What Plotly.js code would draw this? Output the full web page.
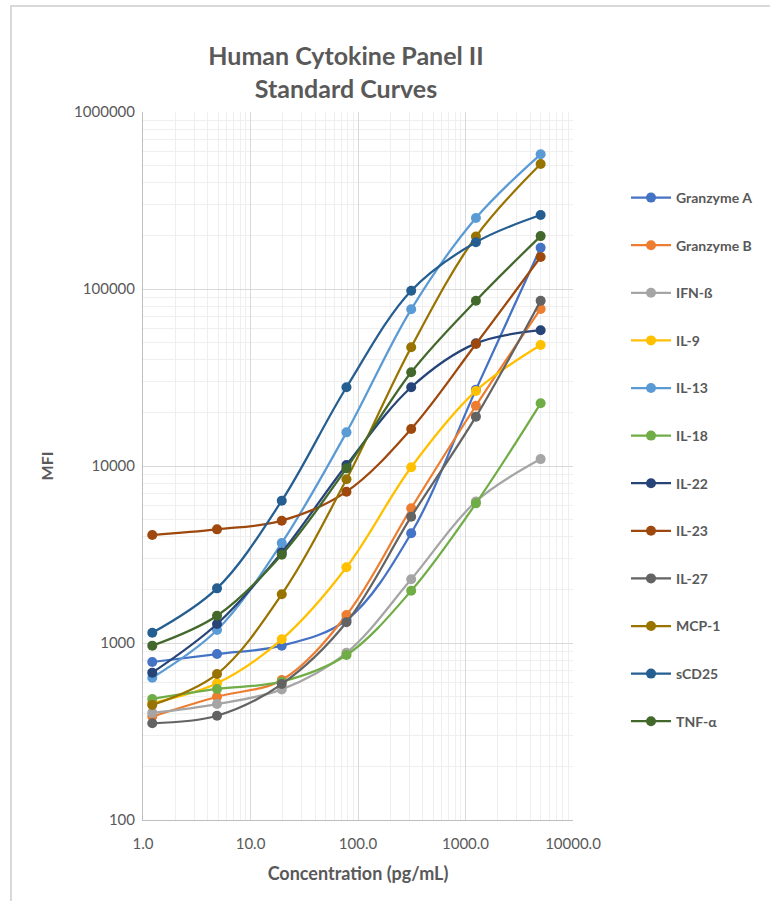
<!DOCTYPE html>
<html>
<head>
<meta charset="utf-8">
<script src="https://cdn.plot.ly/plotly-3.0.1.min.js"></script>
<style>
html,body{margin:0;padding:0;background:#fff;}
#chart{width:770px;height:901px;}
</style>
</head>
<body>
<div id="chart"></div>
<script>
// Concentrations (pg/mL), 4-fold dilution series
const concentration = [1.22, 4.88, 19.53, 78.13, 312.5, 1250, 5000];

const seriesNames = ["Granzyme A","Granzyme B","IFN-ß","IL-9","IL-13","IL-18","IL-22","IL-23","IL-27","MCP-1","sCD25","TNF-α"];

const granzymeA = [781, 866, 966, 1349, 4170, 27000, 171000];
const granzymeB = [384, 497, 618, 1439, 5770, 21900, 77100];
const ifnB      = [403, 452, 547, 880, 2292, 6300, 10940];
const il9       = [458, 592, 1049, 2680, 9840, 26550, 48300];
const il13      = [637, 1184, 3673, 15490, 76800, 251900, 576800];
const il18      = [483, 550, 605, 855, 1973, 6150, 22600];
const il22      = [680, 1280, 3250, 10140, 27850, 49300, 58500];
const il23      = [4075, 4385, 4910, 7160, 16200, 48900, 151700];
const il27      = [352, 388, 586, 1309, 5170, 19000, 85900];
const mcp1      = [447, 668, 1884, 8410, 46900, 197800, 508000];
const scd25     = [1143, 2036, 6368, 27850, 97800, 183800, 261800];
const tnfA      = [966, 1426, 3155, 9700, 33850, 85900, 199000];

const seriesValues = [granzymeA, granzymeB, ifnB, il9, il13, il18, il22, il23, il27, mcp1, scd25, tnfA];
const seriesColors = ["#4472C4","#ED7D31","#A5A5A5","#FFC000","#5B9BD5","#70AD47","#264478","#9E480E","#636363","#997300","#255E91","#43682B"];

const xTickVals = [1, 10, 100, 1000, 10000];
const xTickText = ["1.0","10.0","100.0","1000.0","10000.0"];
const yTickVals = [100, 1000, 10000, 100000, 1000000];
const yTickText = ["100","1000","10000","100000","1000000"];

const FONT = "Lato, 'Open Sans', sans-serif";
const GREY = "#595959";

const traces = seriesNames.map((name, i) => ({
  type: "scatter",
  mode: "lines+markers",
  name: "<b>" + name + "</b>",
  legendgroup: "g" + i,
  x: concentration,
  y: seriesValues[i],
  line: {color: seriesColors[i], width: 2.25, shape: "spline", smoothing: 1},
  marker: {color: seriesColors[i], size: 10}
}));

const layout = {
  width: 770,
  height: 901,
  margin: {l: 143, r: 197, t: 112, b: 81, autoexpand: false},
  paper_bgcolor: "#ffffff",
  plot_bgcolor: "#ffffff",
  showlegend: true,
  title: {
    text: "<b>Human Cytokine Panel II<br>Standard Curves</b>",
    font: {family: FONT, size: 25, color: GREY},
    x: 346/770, xref: "container", xanchor: "center",
    y: 1 - 65/901, yref: "container", yanchor: "middle"
  },
  xaxis: {
    type: "log",
    range: [0, 4],
    tickvals: xTickVals,
    ticktext: xTickText,
    tickfont: {family: FONT, size: 15, color: GREY},
    showgrid: true,
    gridcolor: "#d9d9d9",
    gridwidth: 1,
    zeroline: false,
    showline: true,
    linecolor: "#bfbfbf",
    ticks: "",
    ticklabelstandoff: 10,
    minor: {tickvals: [2,3,4,5,6,7,8,9,20,30,40,50,60,70,80,90,200,300,400,500,600,700,800,900,2000,3000,4000,5000,6000,7000,8000,9000], showgrid: true, gridcolor: "#efefef", gridwidth: 1, ticks: ""},
    title: {text: "<b>Concentration (pg/mL)</b>", font: {family: FONT, size: 18, color: GREY}, standoff: 16}
  },
  yaxis: {
    type: "log",
    range: [2, 6],
    tickvals: yTickVals,
    ticktext: yTickText,
    tickfont: {family: FONT, size: 15, color: GREY},
    showgrid: true,
    gridcolor: "#d9d9d9",
    gridwidth: 1,
    zeroline: false,
    showline: true,
    linecolor: "#bfbfbf",
    ticks: "",
    ticklabelstandoff: 4,
    minor: {tickvals: [200,300,400,500,600,700,800,900,2000,3000,4000,5000,6000,7000,8000,9000,20000,30000,40000,50000,60000,70000,80000,90000,200000,300000,400000,500000,600000,700000,800000,900000], showgrid: true, gridcolor: "#efefef", gridwidth: 1, ticks: ""},
    title: {text: "<b>MFI</b>", font: {family: FONT, size: 16, color: GREY}, standoff: 16}
  },
  legend: {
    x: (626 - 143) / 430,
    xanchor: "left",
    y: 1 - (182 - 112) / 708,
    yanchor: "top",
    traceorder: "grouped",
    tracegroupgap: 26.4,
    font: {family: FONT, size: 14, color: GREY},
    bgcolor: "rgba(0,0,0,0)",
    itemwidth: 40
  },
  shapes: [{
    type: "rect", xref: "paper", yref: "paper",
    x0: (11 - 143) / 430, x1: (790 - 143) / 430,
    y0: -(920 - 820) / 708, y1: 1 + (112 - 6) / 708,
    line: {color: "#d9d9d9", width: 2}, fillcolor: "rgba(0,0,0,0)", layer: "below"
  }]
};

Plotly.newPlot("chart", traces, layout, {displayModeBar: false, staticPlot: true});
</script>
</body>
</html>
